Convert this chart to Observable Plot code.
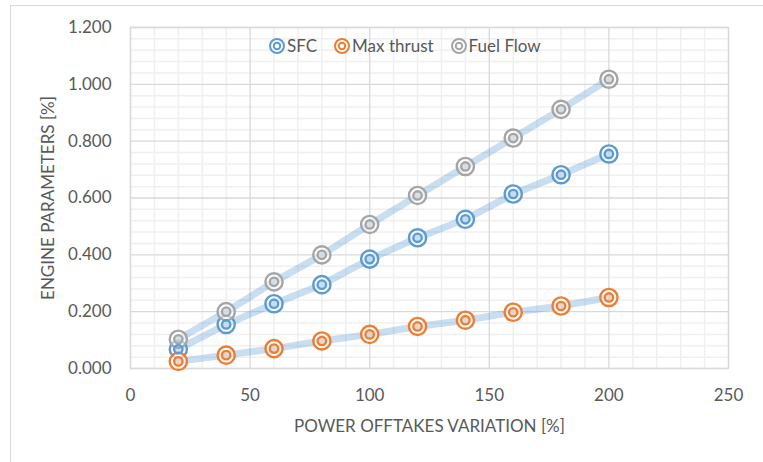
<!DOCTYPE html>
<html>
<head>
<meta charset="utf-8">
<script src="https://cdn.jsdelivr.net/npm/d3@7"></script>
<script src="https://cdn.jsdelivr.net/npm/@observablehq/plot@0.6"></script>
<style>
  html, body { margin: 0; padding: 0; background: white; }
  #wrap { position: relative; width: 763px; height: 462px; overflow: hidden; font-family: Lato, "Open Sans", sans-serif; }
  #border { position: absolute; left: 10px; top: 5px; width: 800px; height: 500px; border: 1px solid #d9d9d9; box-sizing: border-box; pointer-events: none; }
  #legend { position: absolute; left: 268px; top: 35px; display: flex; align-items: center; font-size: 17px; color: #595959; white-space: nowrap; }
  #legend .item { display: flex; align-items: center; margin-right: 16px; }
  #legend svg { margin-right: 1px; }
</style>
</head>
<body>
<div id="wrap">
  <div id="chart"></div>
  <div id="border"></div>
  <div id="legend"></div>
</div>
<script>
// ---- data ----
const offtakes = [20, 40, 60, 80, 100, 120, 140, 160, 180, 200];
const sfc = [0.068, 0.155, 0.228, 0.295, 0.385, 0.460, 0.525, 0.614, 0.682, 0.755];
const maxThrust = [0.025, 0.047, 0.070, 0.097, 0.120, 0.148, 0.170, 0.198, 0.220, 0.250];
const fuelFlow = [0.103, 0.200, 0.305, 0.400, 0.507, 0.609, 0.711, 0.811, 0.912, 1.018];
const seriesNames = ["SFC", "Max thrust", "Fuel Flow"];
const seriesColors = ["#5b9bd5", "#ed7d31", "#a5a5a5"];
const xTicks = [0, 50, 100, 150, 200, 250];
const yTicks = [0, 0.2, 0.4, 0.6, 0.8, 1.0, 1.2];
const xTitle = "POWER OFFTAKES VARIATION [%]";
const yTitle = "ENGINE PARAMETERS [%]";

// ---- build table ----
const seriesValues = [sfc, maxThrust, fuelFlow];
const rows = [];
seriesNames.forEach((name, si) => {
  offtakes.forEach((x, i) => rows.push({series: name, x, y: seriesValues[si][i]}));
});
const xMinor = d3.range(0, 251, 10).filter(v => !xTicks.includes(v));
const yMinor = d3.range(0, 31).map(i => +(i * 0.04).toFixed(2)).filter(v => !yTicks.some(t => Math.abs(t - v) < 1e-9));

const chart = Plot.plot({
  width: 763,
  height: 462,
  marginLeft: 130,
  marginRight: 35,
  marginTop: 27,
  marginBottom: 94,
  style: {fontFamily: "Lato, 'Open Sans', sans-serif", fontSize: "17px", color: "#595959", background: "transparent"},
  x: {domain: [0, 250]},
  y: {domain: [0, 1.2]},
  color: {domain: seriesNames, range: seriesColors},
  marks: [
    Plot.gridX(xMinor, {stroke: "#f0f0f0", strokeOpacity: 1, strokeWidth: 1.5}),
    Plot.gridY(yMinor, {stroke: "#f0f0f0", strokeOpacity: 1, strokeWidth: 1.5}),
    Plot.gridX(xTicks, {stroke: "#d9d9d9", strokeOpacity: 1, strokeWidth: 1.3}),
    Plot.gridY(yTicks, {stroke: "#d9d9d9", strokeOpacity: 1, strokeWidth: 1.3}),
    Plot.frame({stroke: "#d9d9d9", strokeWidth: 1.3}),
    Plot.axisX({ticks: xTicks, tickSize: 0, tickPadding: 20, label: null, tickFormat: d3.format("d"), fill: "#595959", fontSize: 17}),
    Plot.axisY({ticks: yTicks, tickSize: 0, tickPadding: 19, label: null, tickFormat: d3.format(".3f"), fill: "#595959", fontSize: 17}),
    Plot.lineY(rows, {x: "x", y: "y", z: "series", stroke: "#5b9bd5", strokeOpacity: 0.33, strokeWidth: 7}),
    Plot.dot(rows, {x: "x", y: "y", r: 8.6, stroke: "series", strokeWidth: 2.4, fill: "white", fillOpacity: 0.55}),
    Plot.dot(rows, {x: "x", y: "y", r: 4.2, stroke: "series", strokeWidth: 2.3, fill: "series", fillOpacity: 0.2}),
    Plot.text([xTitle], {frameAnchor: "bottom", dy: 63, fill: "#595959", fontSize: 17, textAnchor: "middle"}),
    Plot.text([yTitle], {frameAnchor: "left", dx: -82, rotate: -90, fill: "#595959", fontSize: 17, textAnchor: "middle"})
  ]
});
document.getElementById("chart").appendChild(chart);

// ---- legend ----
const legend = document.getElementById("legend");
seriesNames.forEach((name, i) => {
  const item = document.createElement("div");
  item.className = "item";
  const ns = "http://www.w3.org/2000/svg";
  const s = document.createElementNS(ns, "svg");
  s.setAttribute("width", 18); s.setAttribute("height", 18);
  const c1 = document.createElementNS(ns, "circle");
  c1.setAttribute("cx", 9); c1.setAttribute("cy", 9); c1.setAttribute("r", 7);
  c1.setAttribute("fill", "white"); c1.setAttribute("stroke", seriesColors[i]); c1.setAttribute("stroke-width", 2);
  const c2 = document.createElementNS(ns, "circle");
  c2.setAttribute("cx", 9); c2.setAttribute("cy", 9); c2.setAttribute("r", 3.2);
  c2.setAttribute("fill", "none"); c2.setAttribute("stroke", seriesColors[i]); c2.setAttribute("stroke-width", 2);
  s.appendChild(c1); s.appendChild(c2);
  const t = document.createElement("span");
  t.textContent = name;
  item.appendChild(s); item.appendChild(t);
  legend.appendChild(item);
});
</script>
</body>
</html>
